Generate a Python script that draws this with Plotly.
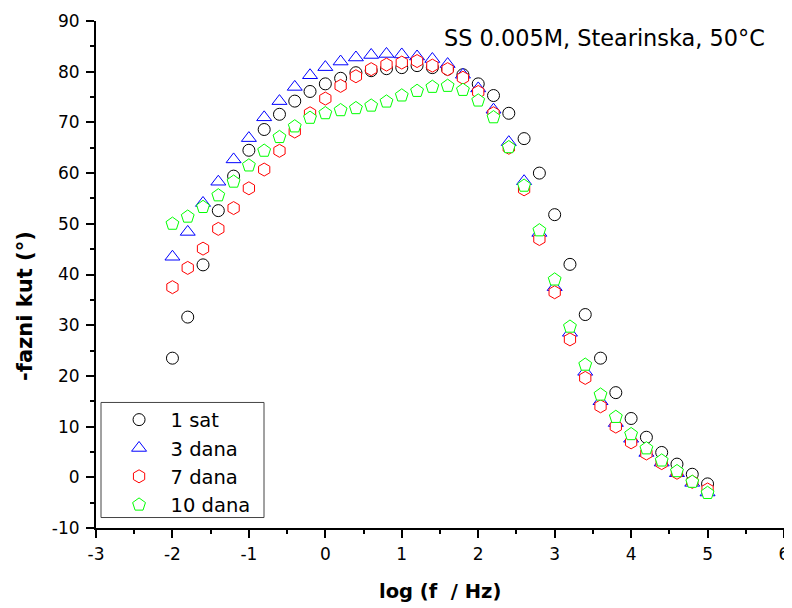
import plotly.graph_objects as go

log_f = [-2.0, -1.8, -1.6, -1.4, -1.2, -1.0, -0.8, -0.6, -0.4, -0.2,
         0.0, 0.2, 0.4, 0.6, 0.8, 1.0, 1.2, 1.4, 1.6, 1.8,
         2.0, 2.2, 2.4, 2.6, 2.8, 3.0, 3.2, 3.4, 3.6, 3.8,
         4.0, 4.2, 4.4, 4.6, 4.8, 5.0]

sat_1 = [23.5, 31.6, 41.9, 52.6, 59.4, 64.5, 68.6, 71.6, 74.2, 76.1,
         77.6, 78.7, 79.8, 80.2, 80.6, 80.8, 81.2, 80.8, 80.5, 79.4,
         77.6, 75.3, 71.8, 66.8, 60.0, 51.8, 42.0, 32.1, 23.5, 16.7,
         11.6, 7.9, 4.9, 2.6, 0.6, -1.3]

dana_3 = [43.5, 48.4, 54.1, 58.3, 62.7, 66.9, 71.0, 74.2, 77.0, 79.3,
          80.9, 82.0, 82.8, 83.3, 83.5, 83.4, 83.0, 82.5, 81.5, 79.4,
          76.7, 72.5, 66.1, 58.4, 48.2, 37.5, 28.5, 20.8, 15.0, 10.7,
          7.6, 4.8, 2.9, 0.8, -1.1, -3.0]

dana_7 = [37.5, 41.3, 45.1, 49.0, 53.1, 57.0, 60.7, 64.4, 68.2, 71.8,
          74.7, 77.2, 79.1, 80.5, 81.4, 81.8, 82.1, 81.2, 80.5, 78.8,
          76.0, 71.8, 65.0, 56.8, 47.0, 36.5, 27.2, 19.6, 14.0, 10.0,
          6.9, 4.7, 2.8, 0.9, -0.9, -2.4]

dana_10 = [50.0, 51.4, 53.3, 55.6, 58.3, 61.5, 64.4, 67.1, 69.2, 70.9,
           71.8, 72.4, 72.8, 73.3, 74.1, 75.3, 76.2, 77.0, 77.2, 76.4,
           74.3, 71.0, 65.1, 57.5, 48.7, 39.0, 29.7, 22.2, 16.3, 11.9,
           8.5, 5.7, 3.3, 1.2, -0.9, -3.1]

series_names = ["1 sat", "3 dana", "7 dana", "10 dana"]
series_values = [sat_1, dana_3, dana_7, dana_10]
series_colors = ["#000000", "#0000FF", "#FF0000", "#00FF00"]
series_symbols = ["circle", "triangle-up", "hexagon", "pentagon"]
series_sizes = [12, 13, 13, 13.5]

x_ticks = [-3, -2, -1, 0, 1, 2, 3, 4, 5, 6]
y_ticks = [-10, 0, 10, 20, 30, 40, 50, 60, 70, 80, 90]

FONT = "DejaVu Sans, Arial, Liberation Sans, sans-serif"

fig = go.Figure()
for name, vals, col, sym, sz in zip(series_names, series_values, series_colors,
                                    series_symbols, series_sizes):
    fig.add_trace(go.Scatter(
        x=log_f, y=vals, mode="markers", name=name,
        marker=dict(symbol=sym, size=sz, color="white",
                    line=dict(color=col, width=1)),
    ))

axis_common = dict(
    showline=True, linecolor="black", linewidth=2,
    ticks="outside", ticklen=8, tickwidth=2, tickcolor="black",
    showgrid=False, zeroline=False, mirror=False, automargin=False,
    tickfont=dict(family=FONT, size=17, color="black"),
)

fig.update_xaxes(
    range=[-3, 6], tickvals=x_ticks, ticktext=[str(v) for v in x_ticks],
    minor=dict(ticks="outside", ticklen=4, tickwidth=2, tickcolor="black", dtick=0.5),
    ticklabelstandoff=2,
    **axis_common,
)
fig.update_yaxes(
    range=[-10, 90], tickvals=y_ticks, ticktext=[str(v) for v in y_ticks],
    minor=dict(ticks="outside", ticklen=4, tickwidth=2, tickcolor="black", dtick=5),
    ticklabelstandoff=3,
    **axis_common,
)

# axis titles
fig.add_annotation(
    text="<b>log (f \u00a0/ Hz)</b>", xref="paper", yref="paper",
    x=0.5, y=-0.125, xanchor="center", yanchor="middle", showarrow=False,
    font=dict(family=FONT, size=19.5, color="black"),
)
fig.add_annotation(
    text="<b>-fazni kut (°)</b>", xref="paper", yref="paper",
    x=-0.1032, y=0.438, xanchor="center", yanchor="middle", showarrow=False,
    textangle=-90,
    font=dict(family=FONT, size=21, color="black"),
)

fig.add_annotation(
    text="SS 0.005M, Stearinska, 50°C", xref="paper", yref="paper",
    x=0.5025, y=0.9656, xanchor="left", yanchor="middle", showarrow=False,
    font=dict(family=FONT, size=22.4, color="black"),
)

# legend frame
fig.add_shape(
    type="rect", xref="paper", yref="paper",
    x0=0.00727, x1=0.2442, y0=0.02067, y1=0.2476,
    line=dict(color="#444444", width=1), fillcolor="white", layer="below",
)

fig.update_layout(
    width=784, height=600,
    margin=dict(l=88, r=8, t=12.5, b=79.5),
    paper_bgcolor="white", plot_bgcolor="white",
    showlegend=True,
    legend=dict(
        x=0.0168, y=0.2516, xanchor="left", yanchor="top",
        borderwidth=0, bgcolor="rgba(0,0,0,0)",
        font=dict(family=FONT, size=19.5, color="black"),
        itemwidth=53, tracegroupgap=0,
    ),
)

fig.write_html("out.html")
